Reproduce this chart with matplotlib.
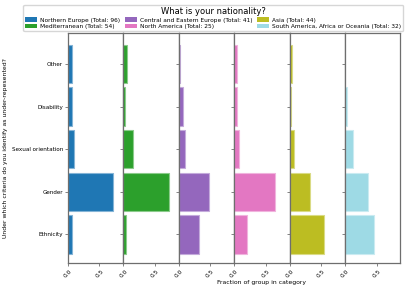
"""
Under-represented criteria by nationality group
"""
import matplotlib
matplotlib.use('Agg')
import matplotlib.pyplot as plt
import matplotlib.colors as mcolors
from matplotlib.patches import Patch
import numpy as np

# Data: fraction of each nationality group identifying with a criterion
criteria = ['Ethnicity', 'Gender', 'Sexual orientation', 'Disability', 'Other']
groups = ['Northern Europe', 'Mediterranean', 'Central and Eastern Europe',
          'North America', 'Asia', 'South America, Africa or Oceania']
totals = [96, 54, 41, 25, 44, 32]

northern_europe = [0.063, 0.708, 0.094, 0.063, 0.063]
mediterranean = [0.037, 0.722, 0.148, 0.019, 0.056]
central_eastern = [0.317, 0.474, 0.098, 0.073, 0.024]
north_america = [0.20, 0.64, 0.08, 0.04, 0.04]
asia = [0.545, 0.318, 0.068, 0.023, 0.045]
south_america = [0.457, 0.365, 0.125, 0.031, 0.0]

values = [northern_europe, mediterranean, central_eastern,
          north_america, asia, south_america]

cmap = plt.get_cmap('tab20')
colors = cmap(np.linspace(0, 1, len(groups)))

spine_col = '#6e6e6e'

fig, axes = plt.subplots(1, len(groups), figsize=(4.07, 2.91), dpi=100, sharey=True)
fig.subplots_adjust(left=0.167, right=0.984, top=0.887, bottom=0.095, wspace=0)

y = np.arange(len(criteria))
for i, ax in enumerate(axes):
    c = colors[i]
    edge = mcolors.to_rgba(c)
    edge = tuple(0.55 * np.array(edge[:3]) + 0.45) + (1.0,)
    ax.barh(y, values[i], height=0.9, color=c, edgecolor=edge, linewidth=0.8)
    ax.set_xlim(0, 0.88)
    ax.set_xticks([0.0, 0.5])
    ax.set_xticklabels(['0.0', '0.5'], rotation=45, fontsize=4.2)
    for s in ax.spines.values():
        s.set_color(spine_col)
        s.set_linewidth(0.9)
    ax.tick_params(length=2, width=0.6, color=spine_col, pad=1.5)

axes[0].set_ylim(-0.68, 4.73)
axes[0].set_yticks(y)
axes[0].set_yticklabels(criteria, fontsize=4.1)
axes[0].set_ylabel('Under which criteria do you identify as under-repesented?', fontsize=4.4, labelpad=3)
axes[len(axes) // 2].set_xlabel('Fraction of group in category', fontsize=4.4, labelpad=1)

handles = [Patch(facecolor=colors[i], edgecolor='none') for i in range(len(groups))]
labels = [f'{g} (Total: {t})' for g, t in zip(groups, totals)]
fig.legend(handles, labels, title='What is your nationality?', ncol=3,
           loc='upper center', bbox_to_anchor=(0.524, 0.993), fontsize=4.2,
           title_fontsize=6, frameon=True, borderpad=0.3, handlelength=2.0,
           labelspacing=0.3, columnspacing=0.75,
           handletextpad=0.6, fancybox=True, framealpha=0.8)

plt.savefig('out.png', dpi=100)
